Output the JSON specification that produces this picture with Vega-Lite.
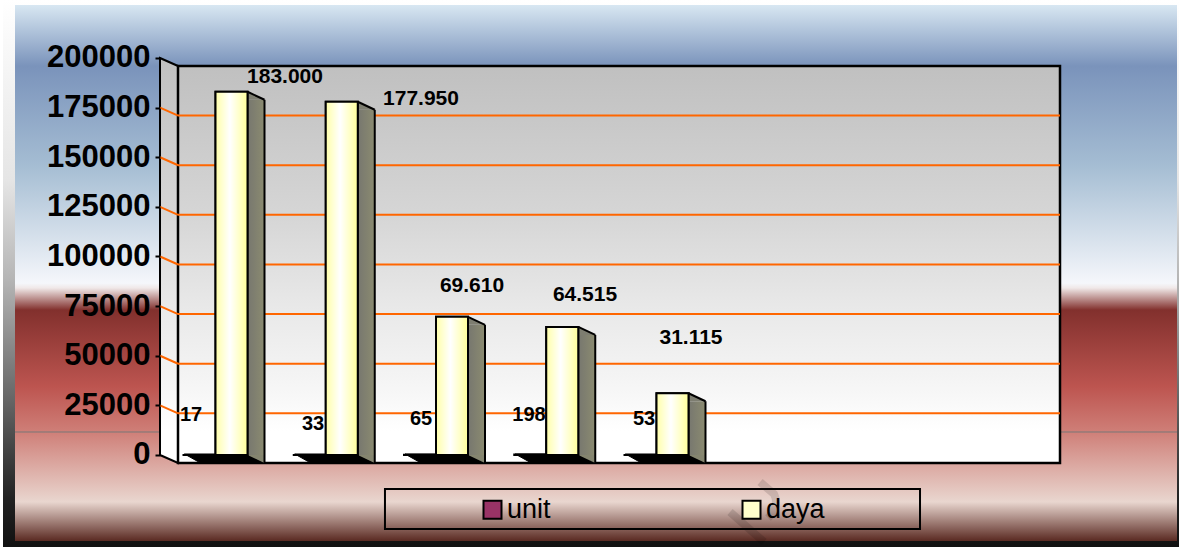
{
"$schema":"https://vega.github.io/schema/vega-lite/v6.json",
"width":1179,"height":547,"padding":0,"autosize":{"type":"none"},"background":"white",
"config":{"view":{"stroke":null}},
"datasets":{
"rows":[
{"cat":1,"series":"unit","value":17,"label":"17"},
{"cat":2,"series":"unit","value":33,"label":"33"},
{"cat":3,"series":"unit","value":65,"label":"65"},
{"cat":4,"series":"unit","value":198,"label":"198"},
{"cat":5,"series":"unit","value":53,"label":"53"},
{"cat":1,"series":"daya","value":183000,"label":"183.000"},
{"cat":2,"series":"daya","value":177950,"label":"177.950"},
{"cat":3,"series":"daya","value":69610,"label":"69.610"},
{"cat":4,"series":"daya","value":64515,"label":"64.515"},
{"cat":5,"series":"daya","value":31115,"label":"31.115"}],
"gridlines":[{"value":25000},{"value":50000},{"value":75000},{"value":100000},{"value":125000},{"value":150000},{"value":175000}],
"one":[{"part":"frame"}]},
"data":{"name":"rows"},
"layer":[
{"data":{"name":"one"},"mark":{"type":"rect","fill":{"gradient":"linear","x1":0,"y1":0,"x2":0,"y2":1,"stops":[{"offset":0,"color":"#ffffff"},{"offset":0.33,"color":"#e5e5e5"},{"offset":0.51,"color":"#b5b5b5"},{"offset":0.73,"color":"#666666"},{"offset":0.91,"color":"#222222"},{"offset":1,"color":"#111111"}]}},
"encoding":{"x":{"datum":-1.0726,"type":"quantitative","axis":null,"scale":{"domain":[-1.0998,9.5941],"nice":false,"zero":false,"padding":0}},"x2":{"datum":9.5941},
"y":{"datum":-46348,"type":"quantitative","scale":{"domain":[-46348,229219],"nice":false,"zero":false,"padding":0},"axis":{"title":null,"orient":"left","offset":-160,"values":[0,25000,50000,75000,100000,125000,150000,175000,200000],"format":"d","domain":false,"grid":false,"ticks":true,"tickSize":5,"tickWidth":2,"tickColor":"#000000","labels":true,"labelFont":"Liberation Sans","labelFontSize":31,"labelFontWeight":"bold","labelColor":"#000000","labelPadding":5,"labelOverlap":false,"labelBound":false,"labelFlush":false,"zindex":1}},"y2":{"datum":229219}}},
{"data":{"name":"one"},"mark":{"type":"rect","fill":{"gradient":"linear","x1":0,"y1":0,"x2":0,"y2":1,"stops":[{"offset":0,"color":"#d8e7f2"},{"offset":0.114,"color":"#7a93bb"},{"offset":0.3,"color":"#a5bdd3"},{"offset":0.519,"color":"#f5f7fb"},{"offset":0.528,"color":"#f0e8e8"},{"offset":0.569,"color":"#82302d"},{"offset":0.713,"color":"#bd5550"},{"offset":0.797,"color":"#cf7f78"},{"offset":0.927,"color":"#e9d6cf"},{"offset":1,"color":"#5a2a22"}]}},
"encoding":{"x":{"datum":-0.9637,"type":"quantitative","axis":null},"x2":{"datum":9.576},"y":{"datum":-43325,"type":"quantitative"},"y2":{"datum":226700}}},
{"data":{"name":"one"},"mark":{"type":"rule","stroke":"#777777","strokeWidth":1},
"encoding":{"x":{"datum":-0.9637,"type":"quantitative","axis":null},"x2":{"datum":9.576},"y":{"datum":11587,"type":"quantitative"}}},
{"data":{"name":"one"},"mark":{"type":"point","filled":false,"opacity":0.12,"size":4,"shape":"M0,0L14,12Q20,24 8,36M-30,30L4,60","stroke":"#000000","strokeWidth":8},
"encoding":{"x":{"datum":5.794,"type":"quantitative","axis":null},"y":{"datum":-13602,"type":"quantitative"}}},
{"data":{"name":"one"},"mark":{"type":"point","filled":true,"opacity":1,"size":4,"shape":"M0,0L18,8L18,405L0,397Z","stroke":"#000000","strokeWidth":2,"fill":{"gradient":"linear","x1":0,"y1":0,"x2":0,"y2":1,"stops":[{"offset":0,"color":"#c0c0c0"},{"offset":0.38,"color":"#d6d6d6"},{"offset":0.6,"color":"#e8e8e8"},{"offset":0.8,"color":"#f5f5f5"},{"offset":0.92,"color":"#ffffff"},{"offset":1,"color":"#ffffff"}]}},
"encoding":{"x":{"datum":0.3515,"type":"quantitative","axis":null},"y":{"datum":200000,"type":"quantitative"}}},
{"data":{"name":"one"},"mark":{"type":"rect","yOffset":8,"y2Offset":8,"stroke":"#000000","strokeWidth":2.5,"fill":{"gradient":"linear","x1":0,"y1":0,"x2":0,"y2":1,"stops":[{"offset":0,"color":"#c0c0c0"},{"offset":0.38,"color":"#d6d6d6"},{"offset":0.6,"color":"#e8e8e8"},{"offset":0.8,"color":"#f5f5f5"},{"offset":0.92,"color":"#ffffff"},{"offset":1,"color":"#ffffff"}]}},
"encoding":{"x":{"datum":0.5147,"type":"quantitative","axis":null},"x2":{"datum":8.5147},"y":{"datum":200000,"type":"quantitative"},"y2":{"datum":0}}},
{"data":{"name":"gridlines"},"mark":{"type":"rule","yOffset":8,"stroke":"#ff6600","strokeWidth":2},
"encoding":{"x":{"datum":0.5147,"type":"quantitative","axis":null},"x2":{"datum":8.5147},"y":{"field":"value","type":"quantitative"}}},
{"data":{"name":"gridlines"},"mark":{"type":"point","filled":false,"opacity":1,"size":4,"shape":"M0,0L18,8","stroke":"#ff6600","strokeWidth":2},
"encoding":{"x":{"datum":0.3515,"type":"quantitative","axis":null},"y":{"field":"value","type":"quantitative"}}},
{"transform":[{"filter":"datum.series=='daya'"}],"mark":{"type":"point","filled":true,"opacity":1,"size":4,"shape":"M-47,-1L16,-1L33,8L-31,8Z","fill":"#000000","stroke":"#000000","strokeWidth":1},
"encoding":{"x":{"field":"cat","type":"quantitative","axis":null},"y":{"datum":0,"type":"quantitative"}}},
{"transform":[{"filter":"datum.series=='unit'"}],"mark":{"type":"bar","width":32,"xOffset":-32,"stroke":"#000000","strokeWidth":2},
"encoding":{"x":{"field":"cat","type":"quantitative","axis":null},"y":{"field":"value","type":"quantitative","stack":null},"y2":{"datum":0},
"color":{"field":"series","type":"nominal","scale":{"domain":["unit","daya"],"range":["#993366","#ffffcc"]},
"legend":{"title":null,"orient":"none","legendX":479,"legendY":496,"direction":"horizontal","symbolType":"square","symbolSize":324,"symbolStrokeColor":"#000000","symbolStrokeWidth":2,"symbolOpacity":1,"labelFont":"Liberation Sans","labelFontSize":27,"labelColor":"#000000","labelOffset":1,"columnPadding":187,"padding":0,"zindex":1,"encode":{"symbols":{"update":{"stroke":{"value":"#000000"},"strokeWidth":{"value":2},"fill":[{"test":"datum.value=='daya'","value":{"gradient":"linear","x1":0,"y1":0,"x2":1,"y2":0,"stops":[{"offset":0,"color":"#ffffa8"},{"offset":0.45,"color":"#ffffff"},{"offset":1,"color":"#ffff99"}]}},{"value":"#993366"}]}}}}}}},
{"transform":[{"filter":"datum.series=='daya'"}],"mark":{"type":"bar","width":17,"xOffset":24.5,"yOffset":8,"y2Offset":0,"fill":{"gradient":"linear","x1":0,"y1":0,"x2":1,"y2":0,"stops":[{"offset":0,"color":"#77776f"},{"offset":1,"color":"#8b8b70"}]}},
"encoding":{"x":{"field":"cat","type":"quantitative","axis":null},"y":{"field":"value","type":"quantitative","stack":null},"y2":{"datum":0}}},
{"transform":[{"filter":"datum.series=='daya'"}],"mark":{"type":"point","filled":true,"opacity":1,"size":4,"shape":"M16,0L33,8L16,8Z","fill":"#7d7d70"},
"encoding":{"x":{"field":"cat","type":"quantitative","axis":null},"y":{"field":"value","type":"quantitative"}}},
{"transform":[{"filter":"datum.series=='daya'"}],"mark":{"type":"point","filled":true,"opacity":1,"size":4,"shape":"M16,0L33,0L33,8Z","fill":"#85856f"},
"encoding":{"x":{"field":"cat","type":"quantitative","axis":null},"y":{"datum":0,"type":"quantitative"}}},
{"transform":[{"filter":"datum.series=='daya'"}],"mark":{"type":"point","filled":false,"opacity":1,"size":4,"shape":"M16,0L33,8","stroke":"#000000","strokeWidth":2},
"encoding":{"x":{"field":"cat","type":"quantitative","axis":null},"y":{"field":"value","type":"quantitative"}}},
{"transform":[{"filter":"datum.series=='daya'"}],"mark":{"type":"rule","xOffset":33,"yOffset":8,"y2Offset":8,"stroke":"#000000","strokeWidth":2},
"encoding":{"x":{"field":"cat","type":"quantitative","axis":null},"y":{"field":"value","type":"quantitative"},"y2":{"datum":0}}},
{"transform":[{"filter":"datum.series=='daya'"}],"mark":{"type":"bar","width":32,"stroke":"#000000","strokeWidth":2},
"encoding":{"x":{"field":"cat","type":"quantitative","axis":null},"y":{"field":"value","type":"quantitative","stack":null},"y2":{"datum":0},"color":{"field":"series","type":"nominal"}}},
{"transform":[{"filter":"datum.series=='daya'"}],"mark":{"type":"bar","width":32,"stroke":"#000000","strokeWidth":2,"fill":{"gradient":"linear","x1":0,"y1":0,"x2":1,"y2":0,"stops":[{"offset":0,"color":"#ffffa8"},{"offset":0.45,"color":"#ffffff"},{"offset":1,"color":"#ffff99"}]}},
"encoding":{"x":{"field":"cat","type":"quantitative","axis":null},"y":{"field":"value","type":"quantitative","stack":null},"y2":{"datum":0}}},
{"transform":[{"filter":"datum.label=='183.000'"}],"mark":{"type":"text","font":"Liberation Sans","fontSize":21,"fontWeight":"bold","fill":"#000000","dx":53.5,"dy":-14.7},"encoding":{"x":{"field":"cat","type":"quantitative","axis":null},"y":{"field":"value","type":"quantitative"},"text":{"field":"label"}}},
{"transform":[{"filter":"datum.label=='177.950'"}],"mark":{"type":"text","font":"Liberation Sans","fontSize":21,"fontWeight":"bold","fill":"#000000","dx":79.25,"dy":-2.8},"encoding":{"x":{"field":"cat","type":"quantitative","axis":null},"y":{"field":"value","type":"quantitative"},"text":{"field":"label"}}},
{"transform":[{"filter":"datum.label=='69.610'"}],"mark":{"type":"text","font":"Liberation Sans","fontSize":21,"fontWeight":"bold","fill":"#000000","dx":20,"dy":-30.8},"encoding":{"x":{"field":"cat","type":"quantitative","axis":null},"y":{"field":"value","type":"quantitative"},"text":{"field":"label"}}},
{"transform":[{"filter":"datum.label=='64.515'"}],"mark":{"type":"text","font":"Liberation Sans","fontSize":21,"fontWeight":"bold","fill":"#000000","dx":22.75,"dy":-31.9},"encoding":{"x":{"field":"cat","type":"quantitative","axis":null},"y":{"field":"value","type":"quantitative"},"text":{"field":"label"}}},
{"transform":[{"filter":"datum.label=='31.115'"}],"mark":{"type":"text","font":"Liberation Sans","fontSize":21,"fontWeight":"bold","fill":"#000000","dx":18.5,"dy":-55.2},"encoding":{"x":{"field":"cat","type":"quantitative","axis":null},"y":{"field":"value","type":"quantitative"},"text":{"field":"label"}}},
{"transform":[{"filter":"datum.label=='17'"}],"mark":{"type":"text","font":"Liberation Sans","fontSize":20,"fontWeight":"bold","fill":"#000000","dx":-40.5,"dy":-40},"encoding":{"x":{"field":"cat","type":"quantitative","axis":null},"y":{"field":"value","type":"quantitative"},"text":{"field":"label"}}},
{"transform":[{"filter":"datum.label=='33'"}],"mark":{"type":"text","font":"Liberation Sans","fontSize":20,"fontWeight":"bold","fill":"#000000","dx":-28.75,"dy":-31},"encoding":{"x":{"field":"cat","type":"quantitative","axis":null},"y":{"field":"value","type":"quantitative"},"text":{"field":"label"}}},
{"transform":[{"filter":"datum.label=='65'"}],"mark":{"type":"text","font":"Liberation Sans","fontSize":20,"fontWeight":"bold","fill":"#000000","dx":-31,"dy":-36},"encoding":{"x":{"field":"cat","type":"quantitative","axis":null},"y":{"field":"value","type":"quantitative"},"text":{"field":"label"}}},
{"transform":[{"filter":"datum.label=='198'"}],"mark":{"type":"text","font":"Liberation Sans","fontSize":20,"fontWeight":"bold","fill":"#000000","dx":-33.25,"dy":-39.6},"encoding":{"x":{"field":"cat","type":"quantitative","axis":null},"y":{"field":"value","type":"quantitative"},"text":{"field":"label"}}},
{"transform":[{"filter":"datum.label=='53'"}],"mark":{"type":"text","font":"Liberation Sans","fontSize":20,"fontWeight":"bold","fill":"#000000","dx":-28.5,"dy":-36},"encoding":{"x":{"field":"cat","type":"quantitative","axis":null},"y":{"field":"value","type":"quantitative"},"text":{"field":"label"}}},
{"data":{"name":"one"},"mark":{"type":"rect","fill":"transparent","stroke":"#000000","strokeWidth":2},
"encoding":{"x":{"datum":2.392,"type":"quantitative","axis":null},"x2":{"datum":7.245},"y":{"datum":-17128,"type":"quantitative"},"y2":{"datum":-37280}}}
]
}
